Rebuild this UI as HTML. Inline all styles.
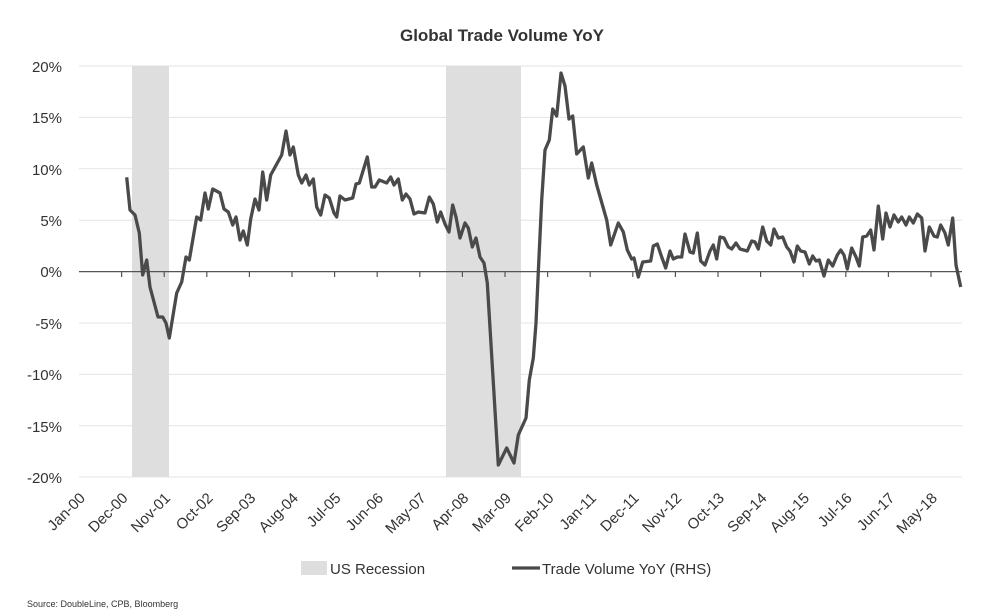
<!DOCTYPE html>
<html><head><meta charset="utf-8"><style>
body{margin:0;background:#fff;}
svg text{font-family:"Liberation Sans",sans-serif;fill:#333;}
</style></head><body>
<svg width="1006" height="610" viewBox="0 0 1006 610" xmlns="http://www.w3.org/2000/svg">
<text x="502" y="41" text-anchor="middle" font-size="17" font-weight="bold">Global Trade Volume YoY</text>
<g stroke="#e3e3e3" stroke-width="1">
<line x1="79" x2="962" y1="66" y2="66"/><line x1="79" x2="962" y1="117.4" y2="117.4"/>
<line x1="79" x2="962" y1="168.8" y2="168.8"/><line x1="79" x2="962" y1="220.2" y2="220.2"/>
<line x1="79" x2="962" y1="323" y2="323"/><line x1="79" x2="962" y1="374.4" y2="374.4"/>
<line x1="79" x2="962" y1="425.8" y2="425.8"/><line x1="79" x2="962" y1="477" y2="477"/>
</g>
<rect x="132" y="66" width="37" height="411" fill="#dedede"/>
<rect x="446" y="66" width="75" height="411" fill="#dedede"/>
<g font-size="15" text-anchor="end">
<text x="62" y="72">20%</text><text x="62" y="123">15%</text><text x="62" y="175">10%</text>
<text x="62" y="226">5%</text><text x="62" y="277">0%</text><text x="62" y="329">-5%</text>
<text x="62" y="380">-10%</text><text x="62" y="432">-15%</text><text x="62" y="483">-20%</text>
</g>
<line x1="79" x2="962" y1="271.6" y2="271.6" stroke="#555" stroke-width="1.2"/>
<g stroke="#555" stroke-width="1.2">
<line x1="121.6" x2="121.6" y1="272" y2="277"/><line x1="164.2" x2="164.2" y1="272" y2="277"/><line x1="206.8" x2="206.8" y1="272" y2="277"/><line x1="249.4" x2="249.4" y1="272" y2="277"/><line x1="292" x2="292" y1="272" y2="277"/><line x1="334.6" x2="334.6" y1="272" y2="277"/><line x1="377.2" x2="377.2" y1="272" y2="277"/><line x1="419.8" x2="419.8" y1="272" y2="277"/><line x1="462.4" x2="462.4" y1="272" y2="277"/><line x1="505" x2="505" y1="272" y2="277"/><line x1="547.6" x2="547.6" y1="272" y2="277"/><line x1="590.2" x2="590.2" y1="272" y2="277"/><line x1="632.8" x2="632.8" y1="272" y2="277"/><line x1="675.4" x2="675.4" y1="272" y2="277"/><line x1="718" x2="718" y1="272" y2="277"/><line x1="760.6" x2="760.6" y1="272" y2="277"/><line x1="803.2" x2="803.2" y1="272" y2="277"/><line x1="845.8" x2="845.8" y1="272" y2="277"/><line x1="888.4" x2="888.4" y1="272" y2="277"/><line x1="931" x2="931" y1="272" y2="277"/>
</g>
<polyline fill="none" stroke="#4a4a4a" stroke-width="3.3" stroke-linejoin="round" points="126.7,177.3 130,210 135,215 139.3,233 142.7,275 146.7,260 150,287 158,317 162.7,317 166,323 169.3,338 176.7,293 181.7,282 186,257 189.3,260 196.7,217 200.7,220 205,193 208.3,209 212.7,189 220,193 224,209 228.3,212 232.7,225 236,217 240,240 243.3,231 247.3,245 250.7,219 255,199 259,210 262.7,172 266.7,200 270.7,175 281.7,155 286,131 290,155 293.3,147 298.3,175 301.7,183 306,175 309.3,185 313.3,179 316.7,207 320.7,215 325,195 329.3,198 334,213 336.7,217 340,196 345,200 352.7,198 356,184 359.3,183 367.3,157 371.7,187 375,187 379.3,180 386.7,183 390.7,177 394,185 398.3,179 402.3,200 406,194 410,199 414,214 418.3,212 425,213 429.3,197 433.3,204 437.3,222 440.7,212 445,224 449,232 452.7,205 456,217 460,238 465,223 468.3,228 472.3,247 476,238 480,257 484,263 487.3,283 498.3,465 506.7,448 514,463 518.3,435 526,418 529.3,380 533.3,358 536,323 538.3,272 541.7,200 545,150 549.3,140 552.7,109 556.7,116 561,73 565,86 569,119 572.7,116 576.7,154 583.3,147 588.3,178 591.7,163 596.7,185 606.7,220 610.7,245 618.3,223 623.3,232 627.3,250 631.7,259 634,258 638.3,277 642.7,262 650.7,261 653.3,246 657.3,244 661.7,257 665.7,268 670,251 673.3,259 677.3,257 681.7,257 685,234 690,252 693.3,253 697.3,233 700.7,261 705,265 710,251 713.3,245 716.7,259 720,237 724,238 728.3,247 731.7,249 736,243 740,249 747.3,251 751.7,241 755,242 758.3,249 762.7,227 766.7,241 770.7,245 774,229 778.3,238 782.7,237 786.7,247 790,251 794,262 797.3,246 800.7,251 805,252 809.3,264 812.7,256 816,261 819.3,260 824,276 828.3,260 832.7,266 837.3,255 840.7,250 844,255 847.3,269 851.7,248 856,257 859.3,266 862.7,237 866.7,236 870.7,230 874,250 878.3,206 882.7,239 886,213 890,227 894,215 898.3,222 901.7,217 906,225 909.3,217 913.3,223 917.3,214 921.7,218 925,251 929.3,227 934,236 937.3,237 940.7,225 945,233 948.3,245 952.7,218 956,265 960.7,287"/>
<g font-size="15" text-anchor="end">
<text transform="translate(86,499) rotate(-45)">Jan-00</text>
<text transform="translate(128.6,499) rotate(-45)">Dec-00</text>
<text transform="translate(171.2,499) rotate(-45)">Nov-01</text>
<text transform="translate(213.8,499) rotate(-45)">Oct-02</text>
<text transform="translate(256.4,499) rotate(-45)">Sep-03</text>
<text transform="translate(299,499) rotate(-45)">Aug-04</text>
<text transform="translate(341.6,499) rotate(-45)">Jul-05</text>
<text transform="translate(384.2,499) rotate(-45)">Jun-06</text>
<text transform="translate(426.8,499) rotate(-45)">May-07</text>
<text transform="translate(469.4,499) rotate(-45)">Apr-08</text>
<text transform="translate(512,499) rotate(-45)">Mar-09</text>
<text transform="translate(554.6,499) rotate(-45)">Feb-10</text>
<text transform="translate(597.2,499) rotate(-45)">Jan-11</text>
<text transform="translate(639.8,499) rotate(-45)">Dec-11</text>
<text transform="translate(682.4,499) rotate(-45)">Nov-12</text>
<text transform="translate(725,499) rotate(-45)">Oct-13</text>
<text transform="translate(767.6,499) rotate(-45)">Sep-14</text>
<text transform="translate(810.2,499) rotate(-45)">Aug-15</text>
<text transform="translate(852.8,499) rotate(-45)">Jul-16</text>
<text transform="translate(895.4,499) rotate(-45)">Jun-17</text>
<text transform="translate(938,499) rotate(-45)">May-18</text>
</g>
<rect x="301" y="561" width="26" height="14" fill="#dedede"/>
<text x="330" y="574" font-size="15">US Recession</text>
<line x1="512" x2="540" y1="568" y2="568" stroke="#4a4a4a" stroke-width="3.3"/>
<text x="542" y="574" font-size="15">Trade Volume YoY (RHS)</text>
<text x="27" y="607" font-size="9">Source: DoubleLine, CPB, Bloomberg</text>
</svg>
</body></html>
